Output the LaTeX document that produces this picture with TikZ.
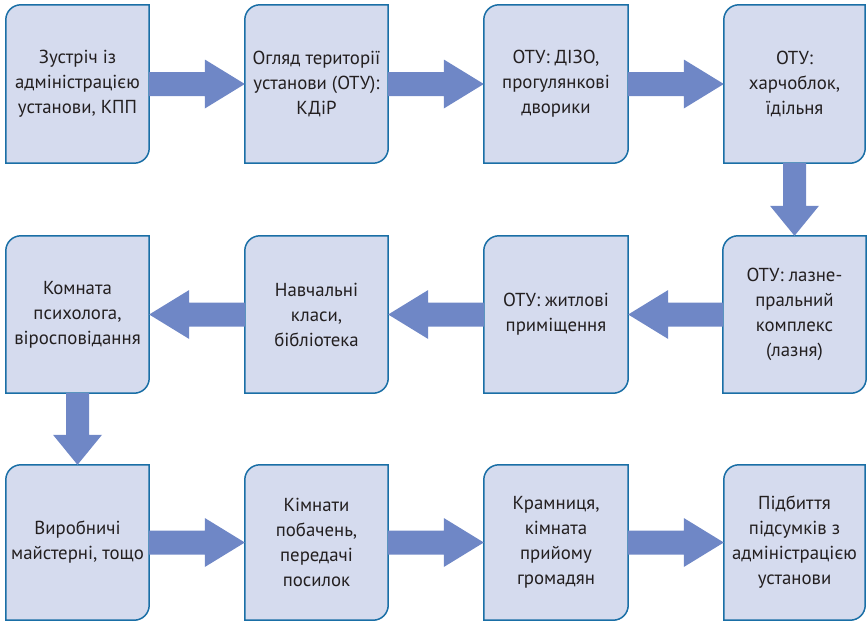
\documentclass[tikz,border=0pt]{standalone}
\usepackage{fontspec}
\setmainfont{PT Sans}
\usetikzlibrary{calc,backgrounds}
\definecolor{boxfill}{HTML}{D5DBEE}
\definecolor{boxline}{HTML}{1A6FA6}
\definecolor{arrfill}{HTML}{6F87C6}
\definecolor{txt}{HTML}{231F20}
\tikzset{
  stepbox/.style={draw=none, minimum width=143pt, minimum height=157pt, inner sep=0pt,
    align=center, text=txt, font=\fontsize{18.8}{25}\selectfont},
  boxshape/.style={draw=boxline, fill=boxfill, line width=1.5pt},
  arrshape/.style={fill=arrfill, draw=none}
}
\newcommand\arrR[2]{\fill[arrshape] ($(#1.east)+(0,-12)$) -- ($(#2.west)+(-40,-12)$) -- ($(#2.west)+(-40,-24.5)$) -- (#2.west) -- ($(#2.west)+(-40,24.5)$) -- ($(#2.west)+(-40,12)$) -- ($(#1.east)+(0,12)$) -- cycle;}
\newcommand\arrL[2]{\fill[arrshape] ($(#1.west)+(0,-12)$) -- ($(#2.east)+(40,-12)$) -- ($(#2.east)+(40,-24.5)$) -- (#2.east) -- ($(#2.east)+(40,24.5)$) -- ($(#2.east)+(40,12)$) -- ($(#1.west)+(0,12)$) -- cycle;}
\newcommand\arrD[2]{\fill[arrshape] ($(#1.south)+(-11.5,0)$) -- ($(#2.north)+(-11.5,-30)$) -- ($(#2.north)+(-24.5,-30)$) -- (#2.north) -- ($(#2.north)+(24.5,-30)$) -- ($(#2.north)+(11.5,-30)$) -- ($(#1.south)+(11.5,0)$) -- cycle;}
\newcommand\boxoutline[2]{\draw[boxshape] ($(#1.north west)+(0,#2)$) .. controls ($(#1.north west)+(0,0.448*#2)$) and ($(#1.north west)+(0.448*#2,0)$) .. ($(#1.north west)+(#2,0)$) -- (#1.north east) -- ($(#1.south east)+(0,-#2)$) .. controls ($(#1.south east)+(0,-0.448*#2)$) and ($(#1.south east)+(-0.448*#2,0)$) .. ($(#1.south east)+(-#2,0)$) -- (#1.south west) -- cycle;}
\begin{document}
\begin{tikzpicture}[x=1pt,y=-1pt]
\useasboundingbox (0,0) rectangle (867,621);
% row 1 (y 5..163)
\node[stepbox, minimum height=158pt] (a1) at (77.5,84) {Зустріч із\\адміністрацією\\установи, КПП};
\node[stepbox, minimum height=158pt] (a2) at (316.5,84) {Огляд території\\установи (ОТУ):\\КДіР};
\node[stepbox, minimum height=158pt, minimum width=144pt] (a3) at (556,84) {ОТУ: ДІЗО,\\прогулянкові\\дворики};
\node[stepbox, minimum height=158pt, minimum width=141pt] (a4) at (794.5,84) {ОТУ:\\харчоблок,\\їдільня};
% row 2 (y 236..393)
\node[stepbox] (b1) at (794.5,314.5) {ОТУ: лазне-\\пральний\\комплекс\\(лазня)};
\node[stepbox, minimum width=144pt] (b2) at (556,314.5) {ОТУ: житлові\\приміщення};
\node[stepbox] (b3) at (316.5,314.5) {Навчальні\\класи,\\бібліотека};
\node[stepbox] (b4) at (77.5,314.5) {Комната\\психолога,\\віросповідання};
% row 3 (y 465..620)
\node[stepbox, minimum height=155pt] (c1) at (77.5,542.5) {Виробничі\\майстерні, тощо};
\node[stepbox, minimum height=155pt] (c2) at (316.5,542.5) {Кімнати\\побачень,\\передачі\\посилок};
\node[stepbox, minimum height=155pt, minimum width=144pt] (c3) at (556,542.5) {Крамниця,\\кімната\\прийому\\громадян};
\node[stepbox, minimum height=155pt, minimum width=141pt] (c4) at (794.5,542.5) {Підбиття\\підсумків з\\адміністрацією\\установи};
\begin{scope}[on background layer]
\foreach \n in {a1,a2,a3,a4,b1,b2,b3,b4,c1,c2,c3,c4}{\boxoutline{\n}{15}}
\end{scope}
\arrR{a1}{a2}
\arrR{a2}{a3}
\arrR{a3}{a4}
\arrD{a4}{b1}
\arrL{b1}{b2}
\arrL{b2}{b3}
\arrL{b3}{b4}
\arrD{b4}{c1}
\arrR{c1}{c2}
\arrR{c2}{c3}
\arrR{c3}{c4}
\end{tikzpicture}
\end{document}
